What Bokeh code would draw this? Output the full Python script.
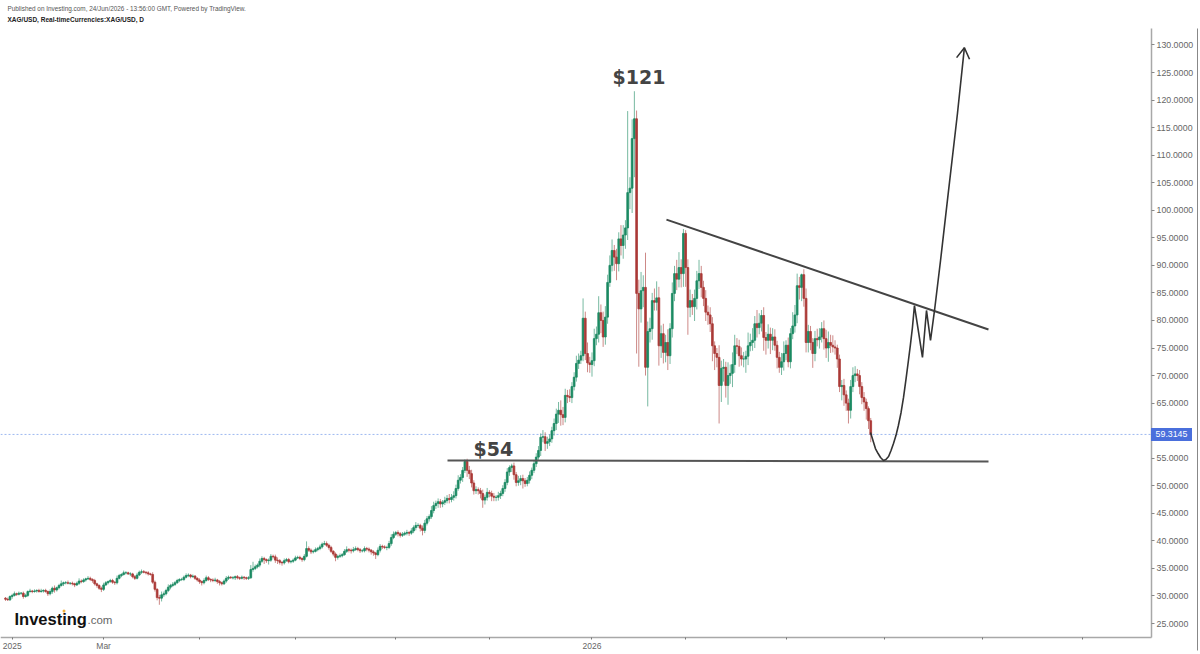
# XAG/USD daily candles with hand drawn pattern on top
from bokeh.core.properties import value
from bokeh.embed import file_html
from bokeh.models import ColumnDataSource, FixedTicker, Label, LinearAxis
from bokeh.plotting import figure
from bokeh.resources import INLINE

first_open = 29.6

closes = [
    29.4,29.3,29.9,30.1,30.4,30.3,30.5,30.5,29.9,30.1,30.8,30.9,30.8,30.9,31.0,30.8,30.9,31.0,30.8,30.4,
    30.8,31.4,31.1,31.5,31.9,32.2,32.4,32.4,32.3,32.3,32.2,32.0,32.3,32.7,32.6,32.9,33.1,33.2,33.0,32.8,
    32.2,31.9,31.4,31.2,32.0,32.4,32.6,32.8,32.5,32.4,33.2,33.7,33.9,34.2,34.2,34.0,34.0,33.5,33.2,33.8,
    34.3,34.4,34.3,34.2,34.0,33.9,32.5,31.2,29.7,29.6,30.2,30.4,31.0,31.6,31.9,32.1,32.4,32.8,33.0,33.0,
    33.4,33.7,33.8,33.5,33.6,33.2,32.9,32.6,32.4,32.8,33.3,33.0,32.9,32.8,32.9,32.6,32.4,32.2,32.7,33.2,
    33.4,33.3,33.3,33.5,33.3,33.2,33.4,33.3,33.2,33.3,34.8,35.0,35.3,35.6,36.3,36.8,36.6,36.4,36.5,37.2,
    37.1,36.5,36.4,36.1,36.0,36.4,36.6,36.2,36.3,36.5,36.9,37.0,36.8,36.6,37.2,38.6,38.3,38.0,38.1,38.4,
    38.6,38.9,39.4,39.5,39.2,38.8,38.1,37.6,37.0,37.2,37.3,37.5,38.1,38.4,38.3,38.2,38.4,38.6,38.4,38.2,
    38.2,38.6,38.5,38.3,38.0,37.8,37.5,38.3,39.0,38.9,38.8,38.8,39.5,40.6,41.2,41.5,41.3,41.0,41.2,41.4,
    41.5,41.4,41.8,42.4,42.8,42.8,42.3,41.9,43.2,44.0,44.4,45.5,46.4,46.8,47.1,46.7,47.0,47.3,47.7,47.5,
    47.9,48.2,49.5,51.0,51.5,52.8,54.4,52.8,52.2,50.5,49.1,49.3,49.1,48.6,47.4,47.9,48.8,48.6,48.1,47.9,
    47.9,48.2,48.6,49.5,50.6,52.5,53.3,53.6,52.0,50.6,50.9,51.3,50.9,50.4,51.0,51.9,52.8,54.0,55.2,56.4,
    58.8,58.9,57.7,58.0,58.5,60.0,61.3,63.0,63.7,62.9,62.4,66.4,66.2,66.0,68.0,69.7,72.2,72.8,73.6,80.4,
    74.0,72.3,72.0,72.7,76.7,77.5,81.4,80.0,77.0,80.6,86.9,90.0,92.7,91.5,90.3,94.8,93.6,95.5,96.8,103.2,
    104.0,113.0,116.6,84.9,82.1,85.4,86.0,71.5,78.0,78.5,83.6,83.3,84.1,75.4,77.6,74.2,76.0,73.6,78.5,84.9,
    88.5,87.5,89.6,88.5,95.8,89.6,82.4,83.6,82.5,84.0,87.2,88.5,86.0,84.0,81.5,81.0,79.4,75.4,74.0,73.3,
    68.2,71.3,71.5,68.2,70.0,70.4,72.0,75.4,75.3,73.6,73.0,73.0,73.5,75.4,76.0,76.4,79.4,78.7,79.5,80.9,
    76.9,76.4,77.5,76.4,77.0,75.5,73.3,71.5,72.5,74.0,75.5,72.5,77.6,79.0,81.0,86.3,86.0,88.3,84.0,76.0,
    78.0,76.0,74.0,76.7,76.5,77.0,78.5,76.7,75.0,76.0,75.5,75.2,75.0,73.0,68.0,68.2,66.5,65.0,63.7,68.0,
    70.0,70.3,70.0,68.0,66.0,65.2,64.0,61.8,59.3,
]

# wick lengths above and below the candle body, dollars
upper_wicks = [
    .2,.3,.2,.3,.4,.2,.3,.2,.3,.3,.2,.4,.2,.3,.2,.3,.4,.2,.3,.2,
    .4,.3,.5,.2,.3,.6,.2,.3,.4,.2,.3,.2,.3,.5,.3,.3,.2,.4,.3,.2,
    .3,.2,.2,.3,.4,.3,.2,.3,.3,.2,.5,.3,.2,.4,.3,.2,.3,.2,.3,.4,
    .3,.4,.3,.2,.3,.2,.4,.3,.2,.5,.6,.4,.3,.5,.3,.4,.3,.3,.2,.3,
    .3,.4,.3,.2,.3,.2,.2,.3,.2,.4,.4,.3,.2,.3,.4,.2,.3,.2,.3,.4,
    .3,.2,.3,.2,.3,.2,.3,.2,.2,.3,.8,1.2,.4,.3,.5,.4,.3,.2,.3,.4,
    .3,.4,.5,.3,.2,.4,.3,.3,.2,.3,.4,.3,.3,.2,.4,1.3,.4,.3,.3,.4,
    .3,.4,.3,.5,.4,.3,.3,.2,.3,.3,.4,.3,.4,.6,.3,.3,.5,.4,.3,.3,
    .3,.4,.3,.3,.2,.3,.2,.5,.4,.3,.3,.3,.5,.6,.5,.3,.4,.3,.4,.3,
    .5,.3,.5,.4,.6,.4,.3,.5,.6,.5,.4,.8,.7,.5,.6,.5,.4,.7,.6,.8,
    .6,.8,.7,.9,.6,.6,.4,.5,.8,.7,.5,.6,.4,.5,.7,.5,.8,.4,.5,.6,
    .4,.7,.5,.6,.6,.7,.4,.4,.6,.5,.9,.6,.7,.5,.6,.7,.5,.6,.7,.8,
    .7,1.2,.8,.9,.8,.7,.9,1.0,1.5,1.8,1.4,1.2,1.0,1.3,.8,.9,1.4,1.2,.9,3.6,
    1.2,2.0,1.1,1.5,1.8,1.4,3.0,1.5,1.6,2.0,1.4,1.8,2.0,1.0,1.5,1.2,2.5,1.8,1.4,14.8,
    2.0,3.5,5.0,1.5,2.5,3.4,2.2,6.3,1.8,2.0,1.4,2.2,3.0,2.0,1.5,1.8,1.4,2.4,1.0,2.0,
    1.4,2.5,2.8,1.5,.8,.6,1.5,2.0,1.2,1.6,1.8,2.5,1.4,1.2,1.5,1.2,1.4,1.2,.8,1.0,
    2.2,1.4,1.5,1.0,2.4,1.6,2.2,2.0,1.4,1.2,1.5,1.3,1.0,2.4,1.6,2.2,1.4,2.5,1.8,1.0,
    1.5,1.0,1.8,1.2,1.6,1.4,.8,1.0,1.6,2.2,.9,1.4,1.0,2.5,1.8,2.2,1.6,.2,1.0,1.8,
    1.2,1.0,.8,1.4,1.8,1.6,1.2,1.5,1.6,2.0,1.4,1.8,1.2,.6,.8,1.0,1.2,.8,.8,1.2,
    1.5,1.4,.9,1.0,.8,1.0,.6,.4,.5,
]
lower_wicks = [
    .3,.2,.2,.4,.2,.3,.2,.3,.4,.2,.3,.2,.3,.2,.3,.2,.2,.3,.2,.4,
    .3,.4,.5,.3,.3,.2,.4,.3,.2,.3,.3,.4,.2,.3,.3,.2,.3,.2,.3,.4,
    .3,.4,.3,.5,.3,.2,.3,.2,.3,.4,.3,.2,.3,.2,.3,.2,.4,.3,.3,.2,
    .2,.3,.2,.3,.3,.2,.3,.4,.5,1.2,.6,.4,.3,.3,.4,.3,.3,.2,.3,.3,
    .3,.2,.3,.3,.2,.3,.3,.4,.5,.3,.2,.3,.4,.3,.3,.4,.5,.3,.2,.3,
    .3,.2,.3,.4,.3,.3,.2,.4,.3,.3,.2,.4,.3,.3,.4,.3,.8,.4,.7,.3,
    .3,.5,.6,.4,.5,.3,.2,.3,.3,.3,.2,.2,.3,.4,.3,.2,.3,.4,.3,.2,
    .3,.3,.3,.2,.3,.4,.3,.4,.7,.4,.3,.3,.2,.3,.4,.5,.3,.2,.3,.4,
    .3,.3,.4,.4,.5,.5,.8,.3,.4,.4,.3,.5,.3,.4,.3,.3,.5,.4,.3,.3,
    .4,.5,.3,.4,.5,.4,.6,.9,.5,.4,.5,.4,.5,.6,.8,.7,.6,.5,.5,.7,
    .5,.6,.5,.4,.6,.8,.5,1.2,1.0,.8,.7,.6,.7,.9,1.4,.8,.6,.7,.9,.7,
    .7,.6,.6,.5,.6,.5,.7,.8,.9,.7,.6,.8,1.4,.6,.5,.6,.7,.5,.6,.5,
    1.0,.9,1.4,1.0,.8,.7,.9,1.2,1.6,2.0,1.4,.9,1.2,.8,1.0,.7,.8,1.0,.7,1.0,
    1.2,1.7,1.5,2.2,1.0,1.2,1.5,2.3,1.8,1.4,1.2,.8,1.1,2.5,3.0,1.4,1.8,2.4,2.5,2.2,
    3.0,4.5,7.0,10.9,10.5,2.5,3.0,1.5,7.1,2.0,2.0,1.5,1.5,3.6,2.2,2.0,1.8,2.6,1.5,1.6,
    1.4,2.0,1.5,2.5,2.4,3.5,5.0,1.8,1.5,2.6,2.0,1.5,1.8,1.4,1.6,1.8,1.5,2.8,3.0,1.8,
    6.9,3.0,2.4,2.2,3.5,1.5,2.5,1.5,1.4,2.0,1.2,1.5,2.5,1.6,1.0,1.5,1.4,1.8,1.2,1.5,
    2.4,2.6,1.5,2.5,1.8,1.0,2.0,1.0,1.4,1.6,1.2,1.0,1.2,1.0,1.2,1.5,2.2,2.5,1.5,1.8,
    1.8,1.4,2.6,1.4,1.2,1.6,1.0,2.0,1.8,2.5,1.4,1.0,1.2,1.6,1.0,2.5,2.0,1.4,2.4,1.5,
    1.0,1.2,1.0,1.4,1.2,1.6,2.0,1.5,1.4,
]
assert len(closes) == len(upper_wicks) == len(lower_wicks)

price_ticks = [25, 30, 35, 40, 45, 50, 55, 60, 65, 70, 75, 80, 85, 90, 95, 100, 105, 110, 115, 120, 125, 130]
time_ticks = [3, 44, 87, 130, 175, 217, 263, 305, 350, 394, 438, 483]
time_labels = ["2025", "Mar", "", "", "", "", "2026", "", "", "", "", ""]
last_price = 59.3145

# drawn lines, as (bar, price)
resistance_bars = [296.4, 440.8]
resistance_prices = [98.3, 78.36]
support_bars = [198.2, 440.8]
support_prices = [54.6, 54.4]
path_bars = [387.9, 389.0, 390.1, 391.3, 392.4, 393.7, 394.8, 396.0, 397.1, 398.2, 399.3, 400.4, 401.6,
             402.7, 403.8, 404.9, 405.8, 406.7, 407.6,
             411.2, 413.0, 414.8, 416.6, 419.3, 422.9, 426.9, 430.0]
path_prices = [59.66, 58.21, 56.76, 55.85, 55.13, 54.58, 54.76, 55.31, 56.4, 57.67, 59.1, 60.93, 63.3,
               66.02, 69.3, 72.73, 75.6, 78.72, 82.71,
               73.28, 81.81, 76.36, 81.81, 90.88, 103.6, 117.6, 129.5]
head_bars = [426.5, 430.0, 432.3]
head_prices = [127.7, 129.5, 127.4]

# picture geometry
W, H = 1200, 654
BAR_PX = 2.23
BAR0_PX = 5
PRICE_PX = 5.51
P25_PY = 623
AXIS_PX = 1151
AXIS_PY = 637


def bar_at(px):
    return (px - BAR0_PX) / BAR_PX


def price_at(py):
    return 25 + (P25_PY - py) / PRICE_PX


opens = [first_open] + closes[:-1]
bars = list(range(len(closes)))
colors = ["#1c8a63" if c >= o else "#ab3a37" for o, c in zip(opens, closes)]
highs = [max(o, c) + u for o, c, u in zip(opens, closes, upper_wicks)]
lows = [min(o, c) - l for o, c, l in zip(opens, closes, lower_wicks)]
source = ColumnDataSource(dict(bar=bars, open=opens, close=closes, high=highs, low=lows, color=colors))

p = figure(
    width=W, height=H,
    x_range=(bar_at(0), bar_at(W)), y_range=(price_at(H), price_at(0)),
    x_axis_location=None, y_axis_location=None,
    output_backend="svg", toolbar_location=None,
    min_border=0, min_border_left=0, min_border_right=0, min_border_top=0, min_border_bottom=0,
    background_fill_color="white", outline_line_color=None,
)
p.grid.visible = False

# price axis, sits inside the frame like the original
y_axis = LinearAxis(fixed_location=bar_at(AXIS_PX), bounds=(price_at(AXIS_PY), price_at(28)))
y_axis.ticker = FixedTicker(ticks=price_ticks)
y_axis.major_label_overrides = {t: "%.4f" % t for t in price_ticks}
y_axis.major_label_text_font = "Liberation Sans"
y_axis.major_label_text_font_size = "8.8px"
y_axis.major_label_text_color = "#666666"
y_axis.major_label_standoff = 2
y_axis.major_tick_in = 0
y_axis.major_tick_out = 3
y_axis.minor_tick_line_color = None
y_axis.major_tick_line_color = "#888888"
y_axis.axis_line_color = "#a8a8a8"
y_axis.axis_line_width = 1.5
p.add_layout(y_axis, "right")

x_axis = LinearAxis(fixed_location=price_at(AXIS_PY), bounds=(bar_at(0), bar_at(AXIS_PX)))
x_axis.ticker = FixedTicker(ticks=time_ticks)
x_axis.major_label_overrides = dict(zip(time_ticks, time_labels))
x_axis.major_label_text_font = "Liberation Sans"
x_axis.major_label_text_font_size = "8.5px"
x_axis.major_label_text_color = "#666666"
x_axis.major_label_standoff = 1
x_axis.major_tick_in = 0
x_axis.major_tick_out = 2
x_axis.minor_tick_line_color = None
x_axis.major_tick_line_color = "#777777"
x_axis.axis_line_color = "#a8a8a8"
x_axis.axis_line_width = 1.5
p.add_layout(x_axis, "below")

# outer border at the far right
p.segment(bar_at(1197), price_at(28), bar_at(1197), price_at(650), line_color="#888888", line_width=1)

# last price dotted line
p.line([bar_at(0), bar_at(AXIS_PX)], [last_price, last_price], line_color="#9db8f0", line_width=1, line_dash="2 2")

# candles
p.segment("bar", "high", "bar", "low", source=source, line_color="color", line_alpha=0.6, line_width=1)
p.vbar(x="bar", width=0.78, top="open", bottom="close", source=source, fill_color="color", line_color="color", line_width=0.8)

# drawn pattern
p.line(resistance_bars, resistance_prices, line_color="#444444", line_width=2)
p.line(support_bars, support_prices, line_color="#555555", line_width=2)
p.line(path_bars, path_prices, line_color="#333333", line_width=1.6)
p.line(head_bars, head_prices, line_color="#333333", line_width=1.6)

# last price tag over the axis labels
p.rect([bar_at(1171)], [last_price], width=41, height=13, width_units="screen", height_units="screen",
       fill_color="#4a6fdc", line_color=None, level="overlay")
p.text([bar_at(1171)], [last_price], text=["%.4f" % last_price], text_align="center", text_baseline="middle",
       text_color="white", text_font=value("Liberation Sans"), text_font_size="8.8px", level="overlay")


def add_label(text, px, py, font, size, color, style="normal", align="left"):
    p.add_layout(Label(x=bar_at(px), y=price_at(py), text=text, text_font=font, text_font_size=size,
                       text_color=color, text_font_style=style, text_align=align, text_baseline="middle"))


add_label("Published on Investing.com, 24/Jun/2026 - 13:56:00 GMT, Powered by TradingView.", 7, 8,
          "Liberation Sans", "6.4px", "#555555")
add_label("XAG/USD, Real-timeCurrencies:XAG/USD, D", 7, 19, "Liberation Sans", "6.5px", "#222222", style="bold")
add_label("$121", 612, 76, "DejaVu Sans", "19px", "#444444", style="bold")
add_label("$54", 473, 448, "DejaVu Sans", "19px", "#444444", style="bold")
add_label("Investing", 14, 618, "Liberation Sans", "16.5px", "#111111", style="bold")
add_label(".com", 87, 619, "Liberation Sans", "11.5px", "#666666")
p.scatter([bar_at(63.5)], [price_at(610.5)], size=3, fill_color="#f2b13c", line_color=None)

open("out.html", "w").write(file_html(p, INLINE))
